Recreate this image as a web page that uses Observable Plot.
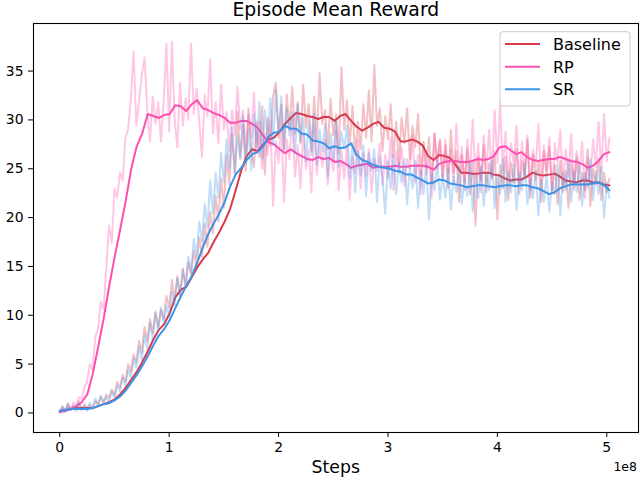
<!DOCTYPE html>
<html><head><meta charset="utf-8">
<script src="https://cdn.jsdelivr.net/npm/d3@7"></script>
<script src="https://cdn.jsdelivr.net/npm/@observablehq/plot@0.6"></script>
<style>body{margin:0;background:#fff} svg{display:block}</style>
</head><body><div id="chart"></div>
<script>
const seriesNames = ["Baseline", "RP", "SR"];
const seriesColors = ["#d83a4b", "#ff4fae", "#3d94e6"];
const rawInterval = 2.5e6;      // steps between raw samples
const smoothInterval = 5.025e6; // steps between smoothed samples
const xTicks = [0, 1e8, 2e8, 3e8, 4e8, 5e8];
const yTicks = [0, 5, 10, 15, 20, 25, 30, 35];

const baselineRaw = [
0.1,0.6,0.2,1.0,0.3,0.8,0.4,1.2, 0.3,0.9,0.5,0.8,0.4,1.2,0.9,1.6,
1.0,1.9,1.5,2.4,1.8,3.2,2.6,3.9, 3.2,5.0,4.2,6.0,5.2,7.4,6.2,8.8,
7.4,9.6,8.2,10.4,8.8,10.6,9.6,12.0, 10.8,13.6,11.6,14.0,12.0,14.8,12.8,15.4,
14.2,16.6,15.0,18.0,16.0,19.4,17.0,20.6, 18.4,22.2,19.6,24.0,21.0,26.4,23.4,28.6,
24.6,30.8,26.0,29.4,24.8,31.2,27.0,25.2, 29.8,26.2,31.4,24.4,30.2,27.4,32.4,33.8,
28.2,31.6,27.0,32.6,29.0,33.4,28.6,31.8, 27.6,33.6,29.2,31.6,26.8,32.4,28.0,34.8,
29.6,31.0,27.0,32.2,28.4,30.6,26.6,35.4, 29.0,32.0,27.4,31.4,26.4,29.8,27.0,31.6,
28.2,33.0,27.8,35.6,29.4,31.2,26.8,30.4, 28.0,31.6,26.2,29.8,25.4,30.2,27.6,31.2,
26.0,29.4,27.2,30.6,24.4,27.8,25.2,28.2, 23.6,28.6,25.8,28.0,24.2,27.4,23.0,29.0,
24.6,26.8,21.6,26.4,23.6,27.0,22.4,25.8, 19.2,26.2,23.8,27.4,22.6,25.6,24.0,26.8,
19.8,25.4,23.0,26.2,21.8,25.6,23.6,27.0, 22.4,25.8,24.2,28.0,22.0,26.4,23.8,25.6,
21.6,26.8,24.4,27.2,22.8,25.4,21.4,25.8, 22.6,24.8,21.0,25.6,23.4,26.2,21.8,24.6,
22.8,27.0,21.2,25.0,23.4,26.0,21.8,24.6, 22.6,24.0
];
const rpRaw = [
0.0,0.4,0.2,0.7,0.3,1.1,0.8,1.6, 1.4,2.6,3.2,5.0,4.4,7.8,8.6,11.4,
10.6,14.8,19.2,17.4,23.0,22.0,24.6,23.8, 28.2,29.0,32.2,37.0,29.4,32.0,34.6,36.4,
31.0,27.8,32.4,29.6,31.8,27.8,32.0,37.8, 28.8,38.0,30.0,27.2,33.8,29.4,32.2,30.0,
37.8,30.6,33.2,29.8,26.2,32.6,30.4,36.2, 28.6,31.8,27.6,33.6,29.0,30.8,26.8,31.0,
28.4,33.4,29.0,31.0,27.0,30.6,28.2,32.8, 26.6,29.8,25.0,28.6,26.4,30.0,21.2,27.8,
25.6,29.8,21.6,28.0,26.0,30.2,24.2,27.4, 23.0,28.6,25.0,27.0,22.6,29.4,24.4,27.6,
25.2,28.0,23.4,27.2,24.8,29.0,22.8,26.8, 24.0,27.4,21.8,26.2,24.6,28.0,23.0,26.6,
24.2,27.0,22.6,26.0,24.8,27.6,23.4,26.4, 24.0,28.2,22.8,26.8,24.6,27.2,23.2,26.0,
25.0,28.4,23.6,26.4,22.4,27.0,24.4,26.2, 22.0,28.6,25.0,27.8,23.8,28.0,24.6,27.0,
23.6,29.6,24.8,27.2,22.8,28.0,24.4,30.0, 24.0,27.6,22.6,28.4,25.0,29.0,24.2,31.0,
25.6,31.8,24.8,28.8,23.8,27.6,25.4,29.4, 23.2,27.8,24.4,28.4,22.8,27.0,25.2,29.6,
23.6,27.4,24.8,28.2,22.4,27.6,25.6,29.0, 23.4,27.0,24.2,28.6,22.8,26.8,24.6,27.8,
22.0,26.2,24.0,28.0,25.2,29.8,24.6,30.6, 25.8,28.2
];
const srRaw = [
0.2,0.7,0.1,0.9,0.3,0.6,0.2,1.0, 0.4,0.7,0.2,1.1,0.5,1.5,0.8,1.8,
1.2,1.6,1.0,2.2,1.6,2.8,2.2,3.6, 2.8,4.4,3.6,5.6,4.6,6.8,5.4,8.0,
6.6,9.2,7.6,10.2,8.4,10.8,9.2,11.0, 9.8,12.4,11.0,13.8,12.0,14.6,13.2,16.0,
14.4,17.8,16.0,19.6,17.6,21.4,19.0,23.8, 20.4,24.6,22.0,26.6,23.6,28.0,25.0,29.2,
24.4,28.4,26.2,30.4,25.6,29.0,24.8,30.6, 27.2,31.8,26.0,31.0,28.0,32.2,27.4,33.0,
28.6,32.4,27.0,31.2,28.4,30.8,26.6,31.6, 27.8,30.2,25.8,29.8,26.4,30.6,25.4,29.0,
26.8,29.6,24.2,28.6,26.0,30.0,25.2,28.8, 27.0,29.4,24.0,27.6,22.6,26.8,24.4,27.4,
22.2,26.6,24.8,27.0,21.6,26.2,24.0,20.4, 25.8,23.0,26.4,22.4,25.6,23.6,26.0,21.4,
25.2,23.0,25.8,21.0,24.8,22.4,25.4,19.8, 24.6,22.8,25.8,21.8,24.4,22.0,25.0,20.8,
24.2,22.6,25.2,21.4,24.0,22.2,25.6,20.6, 24.4,22.0,25.2,21.2,24.6,22.8,25.8,21.0,
24.2,22.4,26.0,21.6,24.8,22.6,25.4,20.8, 24.6,22.8,25.6,21.4,24.0,22.0,24.8,20.2,
23.8,21.6,24.4,20.6,23.6,22.4,25.4,20.2, 24.6,22.8,25.8,21.6,24.8,22.6,25.4,21.2,
24.6,23.0,26.0,21.8,24.8,22.4,25.2,20.0, 23.6,22.0
];

const baselineSmooth = [
0.2,0.3,0.4,0.5,0.5,0.5,0.5,0.7,0.9,1.1,
1.4,1.9,2.6,3.4,4.2,5.2,6.3,7.5,8.5,9.1,
10.2,11.8,12.6,12.9,13.9,14.9,15.7,16.4,17.5,18.5,
19.6,20.9,22.8,24.8,26.3,27.0,26.8,27.5,28.0,28.2,
28.8,29.6,30.2,30.7,30.6,30.4,30.3,30.1,30.3,30.3,
29.9,30.4,30.6,29.9,29.3,28.9,29.2,29.6,29.8,29.2,
29.1,28.8,27.8,27.8,28.0,27.8,27.4,26.3,25.9,26.4,
26.3,26.1,25.4,24.6,24.6,24.5,24.5,24.6,24.6,24.4,
24.3,24.0,23.8,23.9,23.9,24.2,24.6,24.4,24.3,24.4,
24.5,24.2,23.8,23.7,23.6,23.8,23.8,23.6,23.6,23.4,
23.3
];
const rpSmooth = [
0.1,0.2,0.4,0.7,1.1,1.9,4.0,6.8,9.7,13.0,
16.0,18.8,21.7,25.0,27.3,28.6,30.6,30.4,30.2,30.5,
30.6,31.5,31.4,30.9,31.6,32.0,31.2,31.0,30.7,30.5,
30.2,29.7,29.7,29.9,29.9,29.6,29.2,28.4,27.7,27.5,
27.0,26.6,27.0,26.6,26.3,26.0,25.9,26.2,26.0,26.1,
25.7,25.8,25.5,25.1,25.3,25.4,25.5,25.1,25.2,25.2,
25.2,25.3,25.2,25.2,25.3,25.3,25.3,25.2,24.9,25.5,
25.7,25.8,25.8,25.7,25.7,25.8,26.0,25.9,26.0,26.3,
27.2,27.3,26.9,26.5,26.7,26.2,25.9,25.8,25.9,26.0,
26.0,26.2,26.0,25.8,25.7,25.5,25.1,25.3,25.8,26.5,
26.7
];
const srSmooth = [
0.2,0.3,0.4,0.4,0.4,0.4,0.5,0.7,0.9,1.0,
1.3,1.7,2.3,3.1,3.9,4.8,5.8,6.9,7.9,8.6,
9.5,10.7,11.9,13.0,14.0,15.4,16.9,18.3,19.4,20.4,
21.6,23.2,24.4,25.1,25.9,26.5,26.7,27.3,28.3,28.7,
28.8,29.4,29.1,29.1,28.6,28.5,27.9,27.8,27.6,27.1,
27.3,27.1,27.2,27.6,26.4,25.9,25.7,25.4,25.2,25.1,
25.0,24.8,24.7,24.4,24.4,24.1,23.8,23.5,23.6,23.9,
23.8,23.5,23.4,23.3,23.1,23.2,23.3,23.3,23.2,23.1,
23.2,23.3,23.3,23.2,23.3,23.3,23.1,23.0,22.7,22.4,
22.6,23.0,23.2,23.4,23.4,23.4,23.4,23.5,23.6,23.3,
22.8
];

const rawValues = [baselineRaw, rpRaw, srRaw];
const smoothValues = [baselineSmooth, rpSmooth, srSmooth];
const toRows = (vals, interval) => vals.map((v, i) => ({step: i * interval, reward: v}));

const marks = [];
seriesNames.forEach((name, k) => {
  marks.push(Plot.line(toRows(rawValues[k], rawInterval), {
    x: "step", y: "reward", stroke: seriesColors[k], strokeOpacity: 0.32, strokeWidth: 2
  }));
  marks.push(Plot.line(toRows(smoothValues[k], smoothInterval), {
    x: "step", y: "reward", stroke: seriesColors[k], strokeWidth: 2
  }));
});

const chart = Plot.plot({
  width: 640, height: 480,
  marginTop: 23, marginLeft: 33, marginRight: 2, marginBottom: 48,
  style: {fontFamily: "DejaVu Sans", fontSize: "13.9px", color: "black", background: "white"},
  x: {domain: [-0.24e8, 5.29e8]},
  y: {domain: [-2.0, 39.87]},
  marks: [
    ...marks,
    Plot.axisX({ticks: xTicks, tickFormat: d => String(d / 1e8), tickSize: 5, tickPadding: 5, label: null, fontSize: 13.9}),
    Plot.axisY({ticks: yTicks, tickSize: 5, tickPadding: 5, label: null, fontSize: 13.9}),
    Plot.frame({stroke: "black", strokeWidth: 1.1})
  ]
});

const svg = d3.select(chart);
svg.append("text").attr("x", 335.8).attr("y", 15.5).attr("text-anchor", "middle")
  .attr("font-family", "DejaVu Sans").attr("font-size", 18.8).attr("fill", "black")
  .text("Episode Mean Reward");
svg.append("text").attr("x", 335.8).attr("y", 472.5).attr("text-anchor", "middle")
  .attr("font-family", "DejaVu Sans").attr("font-size", 17.3).attr("fill", "black")
  .text("Steps");
svg.append("text").attr("x", 637).attr("y", 471).attr("text-anchor", "end")
  .attr("font-family", "DejaVu Sans").attr("font-size", 12.5).attr("fill", "black")
  .text("1e8");

const lg = svg.append("g");
lg.append("rect").attr("x", 500).attr("y", 31.7).attr("width", 130).attr("height", 74.3)
  .attr("rx", 3).attr("fill", "white").attr("fill-opacity", 0.8).attr("stroke", "#cccccc").attr("stroke-width", 1);
const legendY = [44, 66.7, 89.3];
seriesNames.forEach((name, k) => {
  lg.append("line").attr("x1", 505).attr("x2", 540).attr("y1", legendY[k]).attr("y2", legendY[k])
    .attr("stroke", seriesColors[k]).attr("stroke-width", 2);
  lg.append("text").attr("x", 553).attr("y", legendY[k] + 5.8).attr("text-anchor", "start")
    .attr("font-family", "DejaVu Sans").attr("font-size", 16).attr("fill", "black").text(name);
});

document.getElementById("chart").appendChild(chart);
</script>
</body></html>
